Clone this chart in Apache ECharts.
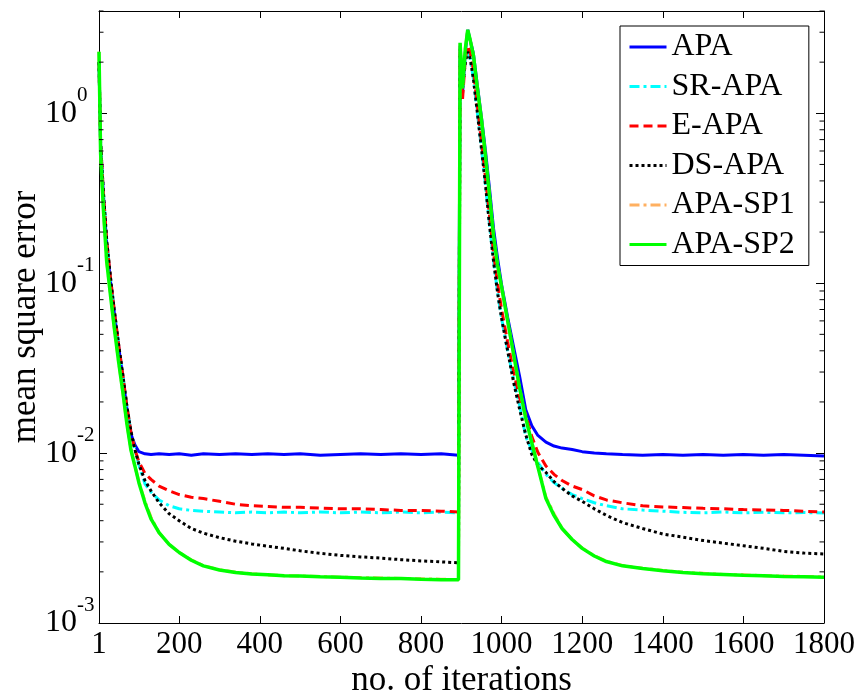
<!DOCTYPE html>
<html>
<head>
<meta charset="utf-8">
<script src="https://cdn.jsdelivr.net/npm/echarts@6/dist/echarts.min.js"></script>
<style>html,body{margin:0;padding:0;background:#fff}#c{width:861px;height:695px}</style>
</head>
<body>
<div id="c"></div>
<script>
const seriesNames = ['APA', 'SR-APA', 'E-APA', 'DS-APA', 'APA-SP1', 'APA-SP2'];
const xTicks = [1, 200, 400, 600, 800, 1000, 1200, 1400, 1600, 1800];
const yMinorTicks = [0.002,0.003,0.004,0.005,0.006,0.007,0.008,0.009,0.02,0.03,0.04,0.05,0.06,0.07,0.08,0.09,0.2,0.3,0.4,0.5,0.6,0.7,0.8,0.9,2,3,4];

const iters = [1,5,12,20,30,40,50,60,70,80,90,100,115,130,150,175,200,230,260,300,340,380,420,460,500,550,600,650,700,750,800,850,893,
  897,903,910,916,922,930,940,950,960,970,980,990,1000,1015,1030,1045,1060,1075,1090,1110,1130,1150,1175,1200,1230,1260,1300,1350,1400,1450,1500,1550,1600,1650,1700,1750,1800];

const apa = [2.0,0.65,0.33,0.17,0.1,0.064,0.042,0.028,0.0185,0.013,0.0112,0.0102,0.0099,0.0098,0.0099,0.0098,0.0099,0.0097,0.0099,0.0098,0.0099,0.0098,0.0099,0.0098,0.0099,0.0097,0.0098,0.0099,0.0098,0.0099,0.0098,0.0099,0.0097,
  2.5,1.3,2.3,3.1,2.7,2.25,1.45,0.95,0.6,0.36,0.21,0.14,0.098,0.063,0.042,0.028,0.018,0.0145,0.0127,0.0116,0.011,0.0107,0.0105,0.0102,0.01,0.0099,0.0098,0.0097,0.0098,0.0097,0.0098,0.0097,0.0098,0.0097,0.0098,0.0097,0.0096];

const srApa = [2.0,0.66,0.34,0.18,0.105,0.066,0.043,0.029,0.019,0.0135,0.0105,0.0085,0.0066,0.0059,0.0053,0.0049,0.0047,0.0046,0.00455,0.0045,0.00445,0.0045,0.00445,0.0045,0.00445,0.0045,0.00445,0.0045,0.00445,0.0045,0.00445,0.0045,0.00445,
  2.4,1.5,2.0,2.35,2.1,1.6,1.0,0.62,0.38,0.22,0.135,0.088,0.062,0.04,0.027,0.019,0.0125,0.0104,0.0088,0.0075,0.0067,0.0062,0.0057,0.0054,0.0051,0.0049,0.0047,0.00462,0.00455,0.00448,0.00445,0.0045,0.00445,0.00448,0.00445,0.00447,0.00444];

const eApa = [2.0,0.66,0.34,0.18,0.105,0.066,0.043,0.029,0.019,0.0135,0.0105,0.0089,0.0076,0.007,0.0064,0.006,0.0057,0.0055,0.0054,0.0052,0.005,0.0049,0.00485,0.0048,0.0048,0.00475,0.0047,0.0047,0.00465,0.0046,0.0046,0.00455,0.0045,
  2.3,1.2,2.1,2.5,2.3,1.8,1.1,0.68,0.42,0.25,0.15,0.1,0.07,0.045,0.03,0.021,0.0168,0.0125,0.0101,0.0084,0.0075,0.0069,0.0064,0.0061,0.0056,0.0053,0.0051,0.0049,0.00482,0.00478,0.00473,0.0047,0.00465,0.00463,0.0046,0.00455,0.0045];

const dsApa = [2.0,0.66,0.34,0.18,0.105,0.066,0.043,0.029,0.019,0.0135,0.0105,0.0086,0.0069,0.006,0.0051,0.0044,0.004,0.0036,0.00338,0.00318,0.00303,0.00292,0.00283,0.00275,0.00266,0.00257,0.0025,0.00245,0.00241,0.00236,0.00232,0.00229,0.00226,
  2.4,1.4,2.0,2.3,2.1,1.6,1.0,0.62,0.38,0.22,0.135,0.088,0.062,0.04,0.026,0.018,0.0128,0.0098,0.0085,0.0077,0.0068,0.0062,0.0056,0.0052,0.0047,0.0043,0.0039,0.0036,0.00334,0.0032,0.00306,0.00295,0.00285,0.00275,0.00264,0.00258,0.00255];

const apaSp1 = [2.3,0.58,0.27,0.135,0.083,0.052,0.034,0.023,0.015,0.0106,0.0084,0.0068,0.0052,0.0042,0.0034,0.0029,0.0026,0.00235,0.00218,0.00206,0.00199,0.00195,0.00192,0.0019,0.00189,0.00188,0.00186,0.00185,0.00184,0.00183,0.00182,0.00181,0.0018,
  2.6,1.4,2.4,3.1,2.7,2.2,1.4,0.92,0.56,0.33,0.19,0.128,0.095,0.06,0.038,0.024,0.016,0.0116,0.0084,0.0055,0.0044,0.0036,0.0031,0.00276,0.00249,0.00231,0.00218,0.0021,0.00204,0.00199,0.00196,0.00193,0.00192,0.0019,0.00189,0.00188,0.00187];

const apaSp2 = [2.3,0.58,0.27,0.135,0.083,0.052,0.034,0.023,0.015,0.0105,0.0084,0.0067,0.0051,0.0041,0.0034,0.0029,0.0026,0.00234,0.00217,0.00205,0.00198,0.00194,0.00192,0.0019,0.00189,0.00187,0.00186,0.00184,0.00183,0.00183,0.00181,0.0018,0.0018,
  2.6,1.4,2.4,3.1,2.7,2.2,1.4,0.92,0.56,0.33,0.19,0.128,0.095,0.06,0.038,0.024,0.016,0.0115,0.0083,0.0054,0.0043,0.0036,0.0031,0.00275,0.00248,0.0023,0.00217,0.00209,0.00203,0.00198,0.00195,0.00193,0.00191,0.0019,0.00188,0.00187,0.00186];

const allValues = [apa, srApa, eApa, dsApa, apaSp1, apaSp2];
const colors = ['#0000ff', '#00ffff', '#ff0000', '#000000', '#ffb060', '#00ff00'];
const dashes = ['solid', [10, 4, 3, 4], [9, 5], [3, 3], [10, 4, 3, 4], 'solid'];
const widths = [3, 3, 3, 3, 3, 3.5];

const FONT = '"Liberation Serif", "Times New Roman", serif';
const X_MIN = 1, X_MAX = 1800;

const chart = echarts.init(document.getElementById('c'), null, {renderer: 'canvas'});

const lineSeries = seriesNames.map((name, i) => ({
  name: name,
  type: 'line',
  data: iters.map((x, k) => [x, allValues[i][k]]),
  showSymbol: false,
  symbol: 'none',
  color: colors[i],
  lineStyle: {color: colors[i], width: widths[i], type: dashes[i], cap: 'butt'},
  z: 2 + i,
  silent: true
}));

const minorSeries = {
  type: 'custom',
  name: 'minor',
  xAxisIndex: 0,
  yAxisIndex: 0,
  silent: true,
  clip: false,
  z: 20,
  data: yMinorTicks.map(v => [X_MIN, v]),
  renderItem: function (params, api) {
    const v = api.value(1);
    const pl = api.coord([X_MIN, v]);
    const pr = api.coord([X_MAX, v]);
    const len = 4.5;
    return {
      type: 'group',
      children: [
        {type: 'line', shape: {x1: pl[0], y1: pl[1], x2: pl[0] + len, y2: pl[1]}, style: {stroke: '#000', lineWidth: 1}},
        {type: 'line', shape: {x1: pr[0] - len, y1: pr[1], x2: pr[0], y2: pr[1]}, style: {stroke: '#000', lineWidth: 1}}
      ]
    };
  }
};

function yLabel(value) {
  const e = Math.log10(value);
  const r = Math.round(e);
  if (Math.abs(e - r) > 1e-6) return '';
  return '{b|10}{s|' + r + '}';
}

const option = {
  animation: false,
  backgroundColor: '#fff',
  grid: {left: 99, top: 11, right: 37, bottom: 72, containLabel: false, outerBoundsMode: 'none'},
  legend: {
    data: seriesNames,
    orient: 'vertical',
    left: 620,
    top: 26,
    padding: [5, 14, 5, 8],
    itemGap: 7.5,
    itemWidth: 37,
    itemHeight: 14,
    borderColor: '#000',
    borderWidth: 1,
    borderRadius: 0,
    backgroundColor: '#fff',
    selectedMode: false,
    itemStyle: {opacity: 0},
    lineStyle: {width: 3},
    textStyle: {fontFamily: FONT, fontSize: 32, color: '#000'}
  },
  xAxis: [{
    type: 'value', min: X_MIN, max: X_MAX, position: 'bottom',
    name: 'no. of iterations', nameLocation: 'middle', nameGap: 40, nameMoveOverlap: false,
    nameTextStyle: {fontFamily: FONT, fontSize: 35, color: '#000'},
    axisLine: {show: true, onZero: false, lineStyle: {color: '#000', width: 1}},
    axisTick: {show: true, inside: true, length: 7, customValues: xTicks, lineStyle: {color: '#000'}},
    axisLabel: {show: true, customValues: xTicks, margin: 6, fontFamily: FONT, fontSize: 31, color: '#000',
      formatter: v => String(v)},
    splitLine: {show: false}
  }, {
    type: 'value', min: X_MIN, max: X_MAX, position: 'top',
    axisLine: {show: true, onZero: false, lineStyle: {color: '#000', width: 1}},
    axisTick: {show: true, inside: true, length: 7, customValues: xTicks, lineStyle: {color: '#000'}},
    axisLabel: {show: false},
    splitLine: {show: false}
  }],
  yAxis: [{
    type: 'log', logBase: 10, min: 0.001, max: 4, position: 'left',
    name: 'mean square error', nameLocation: 'middle', nameGap: 56, nameMoveOverlap: false,
    nameTextStyle: {fontFamily: FONT, fontSize: 35, color: '#000'},
    axisLine: {show: true, onZero: false, lineStyle: {color: '#000', width: 1}},
    axisTick: {show: true, inside: true, length: 8, lineStyle: {color: '#000'}},
    axisLabel: {
      show: true, margin: 54, align: 'left', formatter: yLabel,
      rich: {
        b: {fontFamily: FONT, fontSize: 32, color: '#000', lineHeight: 56},
        s: {fontFamily: FONT, fontSize: 21, color: '#000', lineHeight: 23, verticalAlign: 'top'}
      }
    },
    splitLine: {show: false},
    minorTick: {show: false}
  }, {
    type: 'log', logBase: 10, min: 0.001, max: 4, position: 'right',
    axisLine: {show: true, onZero: false, lineStyle: {color: '#000', width: 1}},
    axisTick: {show: true, inside: true, length: 8, lineStyle: {color: '#000'}},
    axisLabel: {show: false},
    splitLine: {show: false}
  }],
  series: lineSeries.concat([minorSeries])
};
chart.setOption(option);
</script>
</body>
</html>
